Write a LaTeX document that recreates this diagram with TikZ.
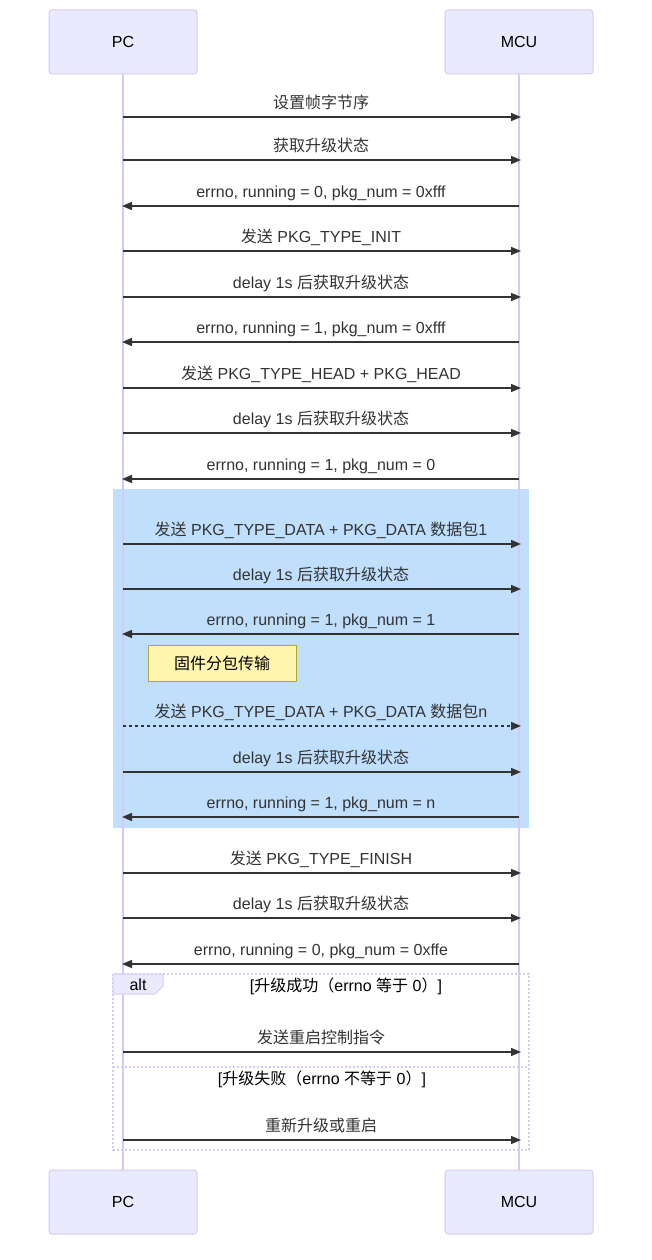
\documentclass[tikz,border=0pt]{standalone}
\usepackage{fontspec}
\setmainfont{Liberation Sans}
\newfontfamily\cjk{Noto Sans CJK SC}
\newcommand\zh[1]{{\cjk #1}}
\usetikzlibrary{arrows.meta}
\definecolor{txt}{HTML}{333333}
\definecolor{actfill}{HTML}{EAEAFF}
\definecolor{actline}{HTML}{D6CAF4}
\definecolor{rectblue}{HTML}{BFDFFD}
\definecolor{notefill}{HTML}{FFF5AD}
\definecolor{noteline}{HTML}{AAAA33}
\tikzset{
  actor/.style={draw=actline, fill=actfill, rounded corners=3pt, minimum width=148pt, minimum height=64pt, inner sep=0pt, line width=1pt, text=black},
  life/.style={draw=actline, line width=2pt},
  msg/.style={draw=txt, line width=1.5pt, -{Triangle[length=10pt,width=8pt]}},
  dmsg/.style={msg, dash pattern=on 3pt off 3pt},
  lbl/.style={text=txt, anchor=base, inner sep=0pt},
  note/.style={draw=noteline, fill=notefill, minimum width=148pt, minimum height=36pt, inner sep=0pt, line width=1pt, text=black},
  frame/.style={draw=actline, line width=2pt, dash pattern=on 2pt off 2pt},
}
\newcommand\msgR[4][msg]{%
  \coordinate (#2a) at (123,#3); \coordinate (#2b) at (521,#3);
  \draw[#1] (#2a) -- (#2b);
  \node[lbl] (#2l) at (321,{#3-8.5}) {#4};}
\newcommand\msgL[3]{%
  \coordinate (#1a) at (519,#2); \coordinate (#1b) at (122,#2);
  \draw[msg] (#1a) -- (#1b);
  \node[lbl] (#1l) at (321,{#2-9}) {#3};}
\begin{document}
\begin{tikzpicture}[x=1pt,y=-1pt,font=\fontsize{16}{19}\selectfont]
\useasboundingbox[fill=white] (0,0) rectangle (651,1260);
% loop rect
\fill[rectblue] (113,489) rectangle (529,828);
% actors
\node[actor] (pct) at (123,42) {PC};
\node[actor] (mcut) at (519,42) {MCU};
\node[actor] (pcb) at (123,1202) {PC};
\node[actor] (mcub) at (519,1202) {MCU};
\draw[life] (pct.south) -- (pcb.north);
\draw[life] (mcut.south) -- (mcub.north);
% messages
\msgR{m1}{117}{\zh{设置帧字节序}}
\msgR{m2}{160}{\zh{获取升级状态}}
\msgL{m3}{206}{errno, running = 0, pkg\_num = 0xfff}
\msgR{m4}{251}{\zh{发送} PKG\_TYPE\_INIT}
\msgR{m5}{297}{delay 1s \zh{后获取升级状态}}
\msgL{m6}{342}{errno, running = 1, pkg\_num = 0xfff}
\msgR{m7}{388}{\zh{发送} PKG\_TYPE\_HEAD + PKG\_HEAD}
\msgR{m8}{433}{delay 1s \zh{后获取升级状态}}
\msgL{m9}{479}{errno, running = 1, pkg\_num = 0}
\msgR{m10}{544}{\zh{发送} PKG\_TYPE\_DATA + PKG\_DATA \zh{数据包}1}
\msgR{m11}{589}{delay 1s \zh{后获取升级状态}}
\msgL{m12}{634}{errno, running = 1, pkg\_num = 1}
\node[note] (n1) at (222,663) {\zh{固件分包传输}};
\msgR[dmsg]{m13}{726}{\zh{发送} PKG\_TYPE\_DATA + PKG\_DATA \zh{数据包}n}
\msgR{m14}{772}{delay 1s \zh{后获取升级状态}}
\msgL{m15}{817}{errno, running = 1, pkg\_num = n}
\msgR{m16}{873}{\zh{发送} PKG\_TYPE\_FINISH}
\msgR{m17}{918}{delay 1s \zh{后获取升级状态}}
\msgL{m18}{964}{errno, running = 0, pkg\_num = 0xffe}
% alt frame
\draw[frame] (113,974) rectangle (529,1150);
\draw[frame] (113,1067) -- (529,1067);
\draw[draw=actline, fill=actfill, line width=1pt] (113,974) -- (163,974) -- (163,986) -- (155,994) -- (113,994) -- cycle;
\node[text=black, inner sep=0pt] (altl) at (138,985) {alt};
\node[text=black, inner sep=0pt] (c1) at (346,986) {[\zh{升级成功（}errno \zh{等于} 0\zh{）}]};
\node[text=black, inner sep=0pt] (c2) at (322,1079) {[\zh{升级失败（}errno \zh{不等于} 0\zh{）}]};
\msgR{m19}{1052}{\zh{发送重启控制指令}}
\msgR{m20}{1140}{\zh{重新升级或重启}}
\end{tikzpicture}
\end{document}
